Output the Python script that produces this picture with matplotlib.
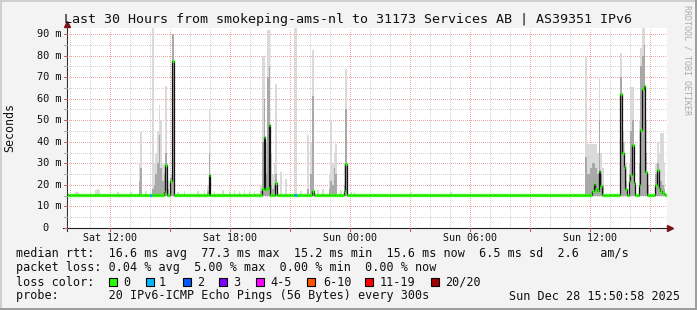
import numpy as np
import matplotlib
matplotlib.use("Agg")
import matplotlib.pyplot as plt
from matplotlib.patches import Rectangle
from matplotlib.lines import Line2D

# ---------------- data ----------------
title = "Last 30 Hours from smokeping-ams-nl to 31173 Services AB | AS39351 IPv6"
n_samples = 360            # 30 h at 300 s
step_min = 5
start_clock = 9 + 50 / 60 + 58 / 3600   # Sat 09:50:58
base_median = 15.4

# samples with elevated latency: index, median, mid-smoke top, max-smoke top (ms)
spike_idx = [43, 44, 51, 52, 53, 54, 55, 56, 57, 58, 59, 60, 62, 63, 84, 85,
             116, 117, 118, 119, 120, 121, 122, 123, 124, 125, 128, 131, 136, 137,
             144, 146, 147, 157, 158, 159, 160, 161, 166, 167,
             311, 312, 313, 314, 315, 316, 317, 318, 319, 320, 321,
             332, 333, 334, 335, 337, 338, 339, 340, 343, 344, 345, 346, 347, 348,
             353, 354, 355, 356, 357, 358]
spike_med = [15.4, 15.4, 15.4, 15.4, 15.4, 15.4, 15.4, 15.4, 15.4, 16.8, 29.2, 15.4, 22.0, 77.3, 15.4, 24.6,
             15.4, 18.0, 42.3, 18.0, 18.7, 48.0, 15.4, 15.4, 15.4, 21.0, 15.4, 15.4, 15.4, 15.4,
             15.4, 15.4, 17.3, 15.4, 15.4, 15.4, 15.4, 15.4, 17.3, 29.7,
             15.4, 15.4, 15.4, 15.4, 17.0, 20.4, 18.0, 17.0, 26.4, 19.6, 15.4,
             62.0, 35.0, 28.4, 18.0, 22.0, 24.6, 38.5, 21.0, 20.0, 45.5, 64.3, 65.9, 26.1, 15.4,
             20.0, 26.9, 18.5, 17.0, 16.4, 16.0]
spike_mid = [22, 28, 18, 20, 25, 30, 43, 28, 22, 25, 35, 18, 23, 90, 17, 35,
             17, 40, 60, 25, 70, 75, 20, 18, 20, 25, 16, 16, 16, 16,
             18, 25, 61, 18, 22, 20, 28, 25, 20, 55,
             33, 25, 25, 28, 30, 30, 28, 25, 50, 25, 20,
             70, 40, 32, 22, 25, 45, 50, 25, 30, 75, 80, 85, 35, 20,
             25, 30, 25, 22, 20, 18]
spike_hi = [30, 44.7, 95, 30, 35, 45, 57, 50, 30, 30, 66, 22, 25, 90, 20, 54.7,
            20, 80, 80, 40, 92, 92, 35, 25, 30, 67, 26, 22.7, 95, 95,
            43, 40, 82.6, 25, 50, 30, 35, 39, 30, 73.7,
            79.5, 39, 39, 39, 39, 39, 39, 35, 70, 35, 28,
            81, 45, 40, 30, 30, 65.5, 65.5, 30, 50, 83.5, 95, 95, 50, 25,
            30, 39.4, 35, 44, 44, 30]

# small smoke bumps above the flat baseline
bump_idx = [5, 6, 17, 18, 19, 30, 38, 47, 66, 70, 78, 82, 88, 93, 97, 100, 103,
            106, 109, 112, 140, 150, 153, 164, 170, 172, 206, 230]
bump_hi = [16.8, 16.8, 17.8, 18.0, 17.5, 16.8, 16.8, 17.0, 16.8, 17.0, 17.0, 17.5,
           17.2, 17.8, 17.2, 17.6, 17.2, 17.5, 17.2, 17.0, 17.0, 17.5, 18.0, 17.6,
           16.8, 16.8, 16.8, 16.6]

# samples with lost pings (count of 20)
loss_idx = [50, 136, 137]
loss_cnt = [1, 1, 1]

loss_labels = ["0", "1", "2", "3", "4-5", "6-10", "11-19", "20/20"]
loss_colors = ["#26ff00", "#00b8ff", "#0059ff", "#7e00ff", "#ff00ff", "#ff5500", "#ff0000", "#a10000"]

tick_clock = [12, 18, 24, 30, 36]
tick_labels = ["Sat 12:00", "Sat 18:00", "Sun 00:00", "Sun 06:00", "Sun 12:00"]
ytick_vals = [0, 10, 20, 30, 40, 50, 60, 70, 80, 90]
ytick_labels = ["0  ", "10 m", "20 m", "30 m", "40 m", "50 m", "60 m", "70 m", "80 m", "90 m"]

legend_rtt = "median rtt:  16.6 ms avg  77.3 ms max  15.2 ms min  15.6 ms now  6.5 ms sd  2.6   am/s"
legend_loss = "packet loss: 0.04 % avg  5.00 % max  0.00 % min  0.00 % now"
legend_probe = "probe:       20 IPv6-ICMP Echo Pings (56 Bytes) every 300s"
stamp = "Sun Dec 28 15:50:58 2025"

# ---------------- figure ----------------
W, H = 697, 310
fig = plt.figure(figsize=(W / 100, H / 100), dpi=100)
fig.patch.set_facecolor("#f3f3f3")
MONO = "DejaVu Sans Mono"


def fx(x):
    return x / W


def fy(y):
    return 1 - y / H


# frame shading
fig.add_artist(Rectangle((0, fy(2)), 1, 2 / H, transform=fig.transFigure, color="#cfcfcf", lw=0))
fig.add_artist(Rectangle((0, 0), 2 / W, 1, transform=fig.transFigure, color="#cfcfcf", lw=0))
fig.add_artist(Rectangle((0, 0), 1, 2 / H, transform=fig.transFigure, color="#9e9e9e", lw=0))
fig.add_artist(Rectangle((fx(W - 2), 0), 2 / W, 1, transform=fig.transFigure, color="#9e9e9e", lw=0))

ymax = 200 / 2.156
ax = fig.add_axes([fx(67), fy(228), 600 / W, 200 / H])
ax.set_xlim(0, 30)
ax.set_ylim(0, ymax)
ax.set_facecolor("white")
for s in ax.spines.values():
    s.set_visible(False)
ax.set_xticks([])
ax.set_yticks([])

# grid (dotted, crisp)
first_hour = int(np.ceil(start_clock))
minor_col, major_col = "#d2d2d2", "#eba9a9"
for c in range(first_hour, int(start_clock + 30) + 1):
    h = c - start_clock
    major = (c % 3 == 0)
    ax.axvline(h, color=major_col if major else minor_col, lw=0.72,
               ls=(0, (1, 1.4)), zorder=0, antialiased=False)
for v in np.arange(5, ymax, 5):
    major = (round(v) % 10 == 0)
    ax.axhline(v, color=major_col if major else minor_col, lw=0.72,
               ls=(0, (1, 1.4)), zorder=0, antialiased=False)

edges = np.arange(n_samples + 1) * step_min / 60.0
width = step_min / 60.0

median = np.full(n_samples, base_median)
median[spike_idx] = spike_med
loss = np.zeros(n_samples, dtype=int)
loss[loss_idx] = loss_cnt

# smoke
ax.bar(edges[bump_idx], np.array(bump_hi) - 15.0, bottom=15.0, width=width,
       align="edge", color="#d9d9d9", lw=0, zorder=1)
ax.bar(edges[spike_idx], np.array(spike_hi) - 15.0, bottom=15.0, width=width,
       align="edge", color="#dadada", lw=0, zorder=1)
ax.bar(edges[spike_idx], np.array(spike_mid) - 15.0, bottom=15.0, width=width,
       align="edge", color="#a9a9a9", lw=0, zorder=2)

# median: black connector line and loss-coloured segments
ax.stairs(median, edges, baseline=None, color="#111111", lw=0.9, zorder=3)


def loss_color(k):
    if k == 0:
        return loss_colors[0]
    if k <= 3:
        return loss_colors[k]
    if k <= 5:
        return loss_colors[4]
    if k <= 10:
        return loss_colors[5]
    if k <= 19:
        return loss_colors[6]
    return loss_colors[7]


cols = [loss_color(k) for k in loss]
ax.hlines(median, edges[:-1], edges[1:], colors=cols, lw=2.4, zorder=4)

# axis lines and arrows (pixel coordinates)
arrow_col = "#7a1515"
fig.add_artist(Line2D([fx(67), fx(67)], [fy(231), fy(25)], color="#333333", lw=0.8))
fig.add_artist(Line2D([fx(63), fx(669)], [fy(228), fy(228)], color="#222222", lw=0.8))
fig.add_artist(Line2D([fx(67)], [fy(24)], marker="^", ms=5, color=arrow_col, lw=0))
fig.add_artist(Line2D([fx(670)], [fy(228)], marker=">", ms=5, color=arrow_col, lw=0))

# small ticks
for c in range(first_hour, int(start_clock + 30) + 1):
    h = c - start_clock
    x = 67 + h * 20
    if c % 3 == 0:
        fig.add_artist(Line2D([fx(x), fx(x)], [fy(228), fy(231)], color="#c06060", lw=0.8))
for v in range(0, 95, 5):
    y = 228 - v * 2.156
    col = "#c06060" if v % 10 == 0 else "#aaaaaa"
    fig.add_artist(Line2D([fx(64), fx(67)], [fy(y), fy(y)], color=col, lw=0.7))

# tick labels
for v, lab in zip(ytick_vals, ytick_labels):
    fig.text(fx(61), fy(228 - v * 2.156), lab, ha="right", va="center",
             family=MONO, fontsize=7.4, color="#111111")
for c, lab in zip(tick_clock, tick_labels):
    x = 67 + (c - start_clock) * 20
    fig.text(fx(x), fy(238), lab, ha="center", va="center",
             family=MONO, fontsize=7.2, color="#111111")

# titles
fig.text(fx(348), fy(19), title, ha="center", va="center", family=MONO,
         fontsize=9.6, color="#111111")
fig.text(fx(10), fy(128), "Seconds", rotation=90, ha="center", va="center",
         family=MONO, fontsize=8.4, color="#111111")
fig.text(fx(687), fy(60), "RRDTOOL / TOBI OETIKER", rotation=270, ha="center",
         va="center", family=MONO, fontsize=6.0, color="#ababab")

# legend
fs = 8.5
fig.text(fx(16), fy(254), legend_rtt, ha="left", va="center", family=MONO, fontsize=fs, color="#111111")
fig.text(fx(16), fy(268), legend_loss, ha="left", va="center", family=MONO, fontsize=fs, color="#111111")
fig.text(fx(16), fy(282), "loss color:", ha="left", va="center", family=MONO, fontsize=fs, color="#111111")
box_x = [108.7, 145.7, 182.7, 219.3, 256.0, 307.3, 365.3, 430.7]
lab_x = [123.3, 158.7, 196.7, 233.3, 270.7, 323.3, 380.0, 445.3]
for bx, lx, col, lab in zip(box_x, lab_x, loss_colors, loss_labels):
    fig.add_artist(Rectangle((fx(bx), fy(285.5)), 8 / W, 8 / H, transform=fig.transFigure,
                             facecolor=col, edgecolor="black", lw=0.8))
    fig.text(fx(lx), fy(282), lab, ha="left", va="center", family=MONO, fontsize=fs, color="#111111")
fig.text(fx(16), fy(296), legend_probe, ha="left", va="center", family=MONO, fontsize=fs, color="#111111")
fig.text(fx(680), fy(296), stamp, ha="right", va="center", family=MONO, fontsize=fs, color="#111111")

fig.savefig("out.png", dpi=100, facecolor=fig.get_facecolor())
